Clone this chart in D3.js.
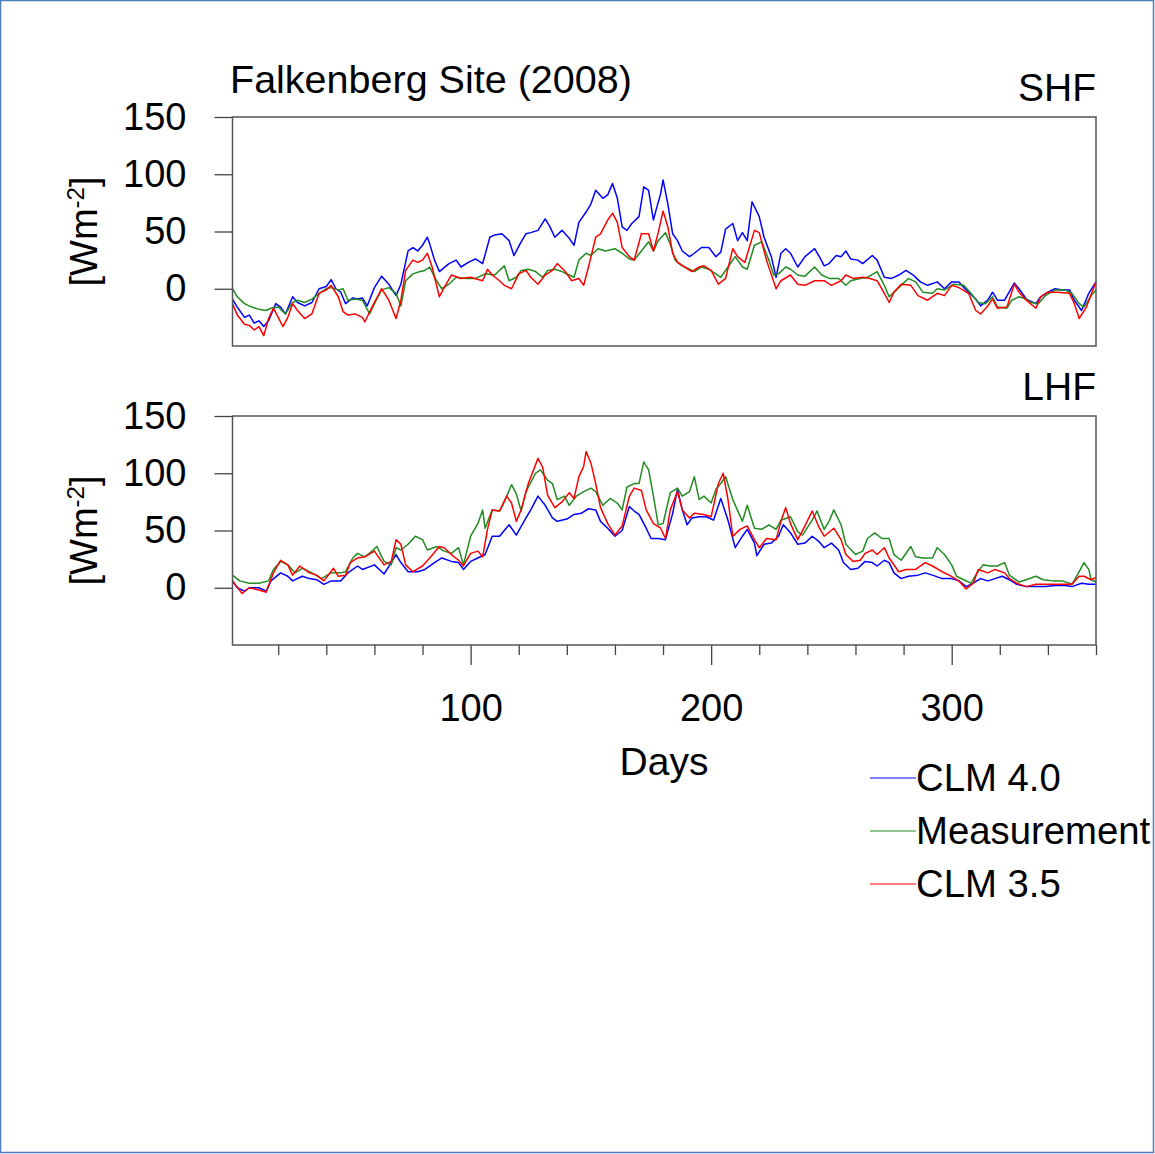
<!DOCTYPE html>
<html lang="en">
  <head>
    <meta charset="utf-8" />
    <script src="https://d3js.org/d3.v7.min.js"></script>
    <style>
      body { margin: 0; background: #fff; }
      text { font-family: "Liberation Sans", Arial, Helvetica, sans-serif; fill: #000; }
    </style>
  </head>
  <body>
    <script type="text/javascript">

      // ---- data: [day, flux W m-2] ----
      var shfClm40 = [[1,-9],[3,-16],[6,-25],[8,-23],[10,-30],[12,-28],[14,-33],[16,-28],[19,-13],[21,-16],[23,-22],[26,-7],[28,-12],[31,-15],[34,-12],[37,0],[40,2],[42,8],[44,0],[46,-3],[48,-13],[51,-8],[53,-9],[55,-8],[57,-15],[60,1],[63,11],[66,4],[69,-6],[71,4],[74,33],[76,36],[78,33],[80,38],[82,45],[83,39],[85,25],[87,15],[91,22],[94,25],[96,19],[99,23],[102,26],[105,22],[108,45],[110,47],[113,48],[116,42],[118,29],[121,41],[123,48],[125,49],[128,51],[131,61],[133,54],[135,45],[138,51],[141,44],[143,38],[145,58],[148,67],[150,74],[152,86],[155,79],[157,82],[159,92],[161,79],[163,54],[165,51],[167,57],[170,63],[172,89],[174,86],[176,60],[177,68],[179,83],[180,95],[182,74],[184,48],[186,42],[188,33],[191,28],[193,31],[196,36],[199,36],[202,28],[204,32],[206,52],[209,57],[211,42],[213,49],[215,42],[217,76],[220,63],[222,45],[225,28],[227,10],[229,31],[231,35],[233,31],[236,19],[239,28],[243,35],[245,28],[247,20],[249,22],[252,29],[254,28],[256,33],[258,26],[261,25],[263,22],[267,29],[269,25],[272,10],[275,9],[278,12],[281,16],[284,12],[287,6],[290,3],[294,6],[297,0],[300,6],[303,6],[306,-1],[310,-9],[312,-15],[315,-10],[317,-3],[319,-10],[322,-10],[326,5],[328,0],[331,-9],[335,-13],[337,-7],[340,-3],[343,0],[346,-1],[349,-1],[351,-10],[354,-19],[357,-4],[360,6]];

      var shfMeas = [[1,0],[3,-7],[6,-13],[9,-16],[12,-18],[15,-19],[17,-17],[20,-16],[23,-22],[26,-12],[28,-10],[31,-12],[34,-9],[37,-4],[40,0],[42,1],[45,-1],[47,0],[49,-10],[52,-9],[55,-10],[58,-22],[60,-13],[63,-1],[66,1],[69,-4],[71,-15],[73,7],[76,13],[79,15],[81,16],[83,19],[85,10],[88,0],[91,4],[94,10],[98,9],[102,9],[106,13],[110,12],[114,20],[116,7],[119,10],[121,16],[124,17],[127,15],[130,10],[132,16],[135,17],[138,15],[141,12],[143,10],[145,25],[148,31],[150,29],[153,35],[156,33],[160,35],[163,31],[166,26],[168,25],[171,33],[174,41],[176,33],[178,42],[181,49],[183,39],[185,25],[188,20],[191,17],[193,15],[196,19],[199,17],[202,13],[204,10],[207,19],[210,28],[213,19],[215,17],[218,38],[221,41],[224,25],[226,12],[228,13],[231,19],[233,17],[236,12],[239,11],[243,19],[246,12],[249,9],[253,9],[256,3],[258,7],[262,9],[265,10],[269,15],[272,3],[274,-7],[278,1],[282,9],[285,6],[288,-3],[292,-4],[294,0],[297,-1],[301,4],[305,3],[308,-4],[311,-12],[314,-13],[317,-7],[319,-16],[323,-17],[325,-10],[328,-7],[331,-9],[333,-12],[336,-13],[339,-6],[343,-1],[347,-1],[350,-4],[353,-13],[355,-16],[358,-6],[360,-1]];

      var shfClm35 = [[1,-13],[3,-23],[6,-31],[8,-32],[10,-36],[12,-33],[14,-41],[16,-26],[18,-17],[20,-25],[22,-33],[24,-25],[26,-13],[28,-19],[31,-26],[34,-22],[37,-4],[40,-1],[42,3],[45,-7],[47,-20],[49,-23],[52,-22],[55,-25],[56,-29],[59,-16],[63,0],[66,-10],[69,-26],[71,-10],[73,16],[76,25],[78,23],[80,25],[82,31],[84,19],[87,-7],[89,1],[92,12],[96,9],[100,10],[105,7],[107,17],[109,12],[112,7],[114,3],[117,0],[120,13],[123,16],[125,10],[128,4],[131,12],[134,16],[136,22],[139,16],[142,7],[145,9],[147,3],[149,19],[152,45],[154,48],[157,60],[159,66],[161,58],[163,36],[166,28],[168,25],[171,48],[174,48],[176,33],[178,49],[180,68],[182,54],[184,31],[186,23],[189,19],[192,15],[195,19],[197,20],[200,16],[203,4],[206,9],[209,35],[211,28],[214,23],[218,51],[220,49],[223,25],[227,0],[229,7],[233,12],[236,4],[239,3],[243,7],[247,7],[250,3],[254,7],[256,12],[259,9],[263,10],[266,9],[269,7],[272,-4],[274,-12],[276,-3],[279,4],[283,3],[286,-6],[290,-10],[294,-4],[297,-6],[300,3],[303,1],[307,-4],[310,-19],[312,-22],[315,-15],[317,-9],[319,-17],[323,-16],[326,4],[328,-3],[331,-10],[335,-17],[337,-7],[340,-3],[344,-3],[349,-4],[351,-13],[353,-26],[356,-16],[360,6]];

      var lhfClm40 = [[1,6],[3,0],[6,-3],[8,0],[12,0],[15,-3],[17,6],[21,13],[24,10],[26,6],[30,10],[33,8],[36,7],[39,3],[42,6],[46,6],[49,13],[53,19],[55,16],[60,20],[64,12],[67,22],[69,29],[71,22],[74,14],[78,14],[81,16],[85,22],[88,26],[92,23],[95,22],[97,16],[100,23],[103,26],[106,29],[109,45],[112,45],[116,55],[119,46],[123,61],[125,68],[128,80],[131,72],[134,61],[136,58],[140,60],[143,64],[146,65],[149,69],[152,68],[154,58],[157,52],[160,45],[163,50],[166,71],[168,67],[170,64],[173,52],[175,43],[178,43],[181,42],[184,65],[186,86],[188,68],[190,55],[192,61],[195,62],[198,62],[201,59],[204,78],[207,59],[210,35],[213,45],[215,51],[218,39],[219,28],[222,38],[225,39],[228,45],[230,55],[233,48],[236,38],[239,39],[242,45],[245,40],[247,35],[250,39],[253,33],[255,22],[258,16],[261,17],[264,23],[267,22],[269,19],[272,24],[274,22],[276,13],[279,8],[282,10],[286,11],[289,13],[292,11],[296,8],[300,8],[303,6],[306,1],[309,4],[312,8],[315,6],[318,8],[321,10],[324,7],[327,3],[331,1],[335,1],[339,1],[343,2],[347,2],[350,1],[354,4],[357,3],[360,3]];

      var lhfMeas = [[1,11],[4,6],[8,4],[12,4],[16,6],[18,16],[21,23],[24,20],[27,13],[30,17],[34,13],[38,8],[42,13],[46,13],[48,14],[51,26],[53,30],[56,27],[59,32],[61,36],[64,23],[67,20],[69,35],[71,33],[74,38],[77,45],[80,42],[82,33],[86,36],[89,32],[92,30],[95,35],[97,20],[100,45],[103,56],[105,68],[106,52],[109,68],[112,67],[114,75],[117,90],[119,82],[121,67],[123,84],[127,100],[129,103],[132,94],[134,91],[136,77],[139,80],[141,72],[144,80],[147,84],[150,87],[152,84],[155,72],[158,78],[161,74],[163,68],[165,88],[168,91],[170,91],[172,110],[174,103],[176,80],[178,55],[180,56],[183,83],[186,87],[188,80],[191,84],[193,97],[195,77],[197,80],[200,74],[202,86],[204,91],[206,97],[209,77],[213,58],[215,72],[218,52],[221,51],[224,55],[227,51],[229,59],[233,62],[236,49],[238,46],[242,59],[244,67],[247,51],[249,58],[251,68],[254,55],[256,38],[260,29],[263,32],[265,43],[268,48],[271,43],[274,43],[276,29],[279,24],[283,36],[285,27],[288,26],[290,26],[292,26],[294,35],[297,29],[300,20],[302,10],[305,7],[308,4],[310,11],[313,20],[316,19],[319,19],[322,22],[324,11],[328,5],[331,7],[335,10],[338,7],[342,6],[346,6],[350,3],[353,14],[355,22],[357,16],[358,7],[360,5]];

      var lhfClm35 = [[1,6],[5,-5],[8,0],[12,-2],[15,-4],[18,13],[21,24],[24,20],[26,11],[29,19],[33,13],[36,11],[39,6],[43,17],[45,10],[48,11],[50,22],[53,26],[56,27],[60,32],[64,20],[67,23],[69,42],[71,38],[73,20],[76,14],[80,19],[83,26],[87,36],[89,35],[92,29],[95,24],[97,19],[100,30],[103,32],[105,27],[107,51],[109,68],[112,67],[115,80],[117,74],[119,58],[121,68],[124,91],[128,113],[130,105],[132,81],[135,70],[138,75],[141,83],[143,78],[145,97],[147,106],[148,119],[150,109],[152,91],[154,70],[157,56],[160,46],[163,54],[166,80],[168,87],[171,85],[173,68],[176,56],[179,52],[181,43],[183,68],[186,84],[188,68],[191,61],[193,65],[197,64],[200,62],[203,91],[205,100],[207,77],[209,45],[212,51],[215,54],[218,42],[220,35],[223,43],[227,42],[229,58],[231,70],[233,56],[236,42],[239,54],[242,67],[245,52],[247,45],[251,52],[254,42],[256,29],[259,23],[262,24],[264,30],[267,33],[269,29],[272,35],[274,26],[278,14],[281,16],[285,16],[289,22],[292,19],[296,14],[299,11],[303,6],[306,-1],[309,4],[311,16],[315,13],[318,16],[322,13],[324,8],[327,4],[331,1],[335,3],[339,3],[344,3],[350,3],[353,10],[355,10],[358,7],[360,9]];

      // series names, colours and tick values
      var seriesNames = ["CLM 4.0", "Measurement", "CLM 3.5"];
      var seriesColors = ["#0000ff", "#228b22", "#ff0000"];
      var yTicks = [0, 50, 100, 150];
      var xMajorTicks = [100, 200, 300];
      var xMinorTicks = [20, 40, 60, 80, 120, 140, 160, 180, 220, 240, 260, 280, 320, 340, 360];
      var panelNames = ["SHF", "LHF"];

      // svg sizes
      var w = 1155;
      var h = 1154;
      var leftChart = 232.5;
      var rightChart = 1096;
      var panelTops = [117, 416];
      var panelHeight = 229;

      var svg = d3.select("body")
                  .append("svg")
                  .attr("width", w)
                  .attr("height", h);

      // white page with a thin blue frame
      svg.append("rect")
         .attr("x", 0.5).attr("y", 0.5)
         .attr("width", w - 2).attr("height", h - 2)
         .attr("fill", "#fff")
         .attr("stroke", "#4a7ebb")
         .attr("stroke-width", 1.5);

      var xScale = d3.scaleLinear()
                     .domain([1, 360])
                     .range([leftChart, rightChart]);

      var panels = [
        [shfClm40, shfMeas, shfClm35],
        [lhfClm40, lhfMeas, lhfClm35]
      ];

      panels.forEach(function(series, p) {
        var top = panelTops[p];
        var yScale = d3.scaleLinear()
                       .domain([-50, 150])
                       .range([top + panelHeight, top]);

        // y axis, ticks pointing out
        var yAxis = svg.append("g")
           .attr("transform", "translate(" + leftChart + ",0)")
           .call(d3.axisLeft(yScale)
                   .tickValues(yTicks)
                   .tickSize(18)
                   .tickPadding(28)
                   .tickSizeOuter(0));
        yAxis.select(".domain").remove();
        yAxis.selectAll("line").attr("stroke", "#444").attr("stroke-width", 1.3);
        yAxis.selectAll("text")
             .style("font-family", "'Liberation Sans', Arial, sans-serif")
             .style("font-size", "38px")
             .attr("fill", "#000");

        // lines
        var line = d3.line()
                     .x(function(d) { return xScale(d[0]); })
                     .y(function(d) { return yScale(d[1]); });

        series.forEach(function(s, i) {
          svg.append("path")
             .datum(s)
             .attr("fill", "none")
             .attr("stroke", seriesColors[i])
             .attr("stroke-width", 1.5)
             .attr("stroke-linejoin", "round")
             .attr("d", line);
        });

        // frame
        svg.append("rect")
           .attr("x", leftChart)
           .attr("y", top)
           .attr("width", rightChart - leftChart)
           .attr("height", panelHeight)
           .attr("fill", "none")
           .attr("stroke", "#555")
           .attr("stroke-width", 1.5);

        // panel name at top right
        svg.append("text")
           .attr("x", rightChart)
           .attr("y", top - 16)
           .attr("text-anchor", "end")
           .style("font-size", "39px")
           .text(panelNames[p]);

        // y label [Wm-2]
        var yLab = svg.append("text")
           .attr("transform", "translate(97," + (top + panelHeight / 2) + ") rotate(-90)")
           .attr("text-anchor", "middle")
           .style("font-size", "38px");
        yLab.append("tspan").text("[Wm");
        yLab.append("tspan")
            .attr("baseline-shift", "super")
            .style("font-size", "24px")
            .text("-2");
        yLab.append("tspan").text("]");

        // x axis on the lower panel only
        if (p == 1) {
          var base = top + panelHeight;
          var xMinor = svg.append("g")
             .attr("transform", "translate(0," + base + ")")
             .call(d3.axisBottom(xScale)
                     .tickValues(xMinorTicks)
                     .tickSize(10)
                     .tickSizeOuter(0)
                     .tickFormat(""));
          xMinor.select(".domain").remove();
          xMinor.selectAll("line").attr("stroke", "#444").attr("stroke-width", 1.3);

          var xMajor = svg.append("g")
             .attr("transform", "translate(0," + base + ")")
             .call(d3.axisBottom(xScale)
                     .tickValues(xMajorTicks)
                     .tickSize(20)
                     .tickPadding(29)
                     .tickSizeOuter(0));
          xMajor.select(".domain").remove();
          xMajor.selectAll("line").attr("stroke", "#444").attr("stroke-width", 1.3);
          xMajor.selectAll("text")
                .style("font-family", "'Liberation Sans', Arial, sans-serif")
                .style("font-size", "38px")
                .attr("fill", "#000");

          svg.append("text")
             .attr("x", 664)
             .attr("y", 775)
             .attr("text-anchor", "middle")
             .style("font-size", "39px")
             .text("Days");
        }
      });

      // title
      svg.append("text")
         .attr("x", 230)
         .attr("y", 93)
         .style("font-size", "39.5px")
         .text("Falkenberg Site (2008)");

      // legend
      var legendY = [778, 831, 884];
      seriesNames.forEach(function(name, i) {
        svg.append("line")
           .attr("x1", 870).attr("x2", 916)
           .attr("y1", legendY[i]).attr("y2", legendY[i])
           .attr("stroke", seriesColors[i])
           .attr("stroke-width", 1.2);
        svg.append("text")
           .attr("x", 916)
           .attr("y", legendY[i] + 13)
           .style("font-size", "38.3px")
           .text(name);
      });

    </script>
  </body>
</html>
